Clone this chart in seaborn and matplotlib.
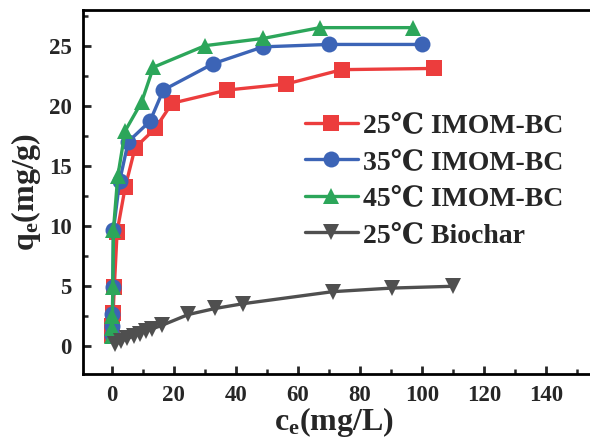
import matplotlib
matplotlib.use("Agg")
import matplotlib.pyplot as plt
import numpy as np
import pandas as pd
import seaborn as sns
from matplotlib.font_manager import FontProperties
from matplotlib.ticker import MultipleLocator

# Equilibrium concentration ce (mg/L) and adsorption capacity qe (mg/g)
ce_25 = [0.1, 0.2, 0.4, 0.8, 1.7, 4.3, 7.5, 14.0, 19.4, 37.2, 56.2, 74.2, 103.9]
qe_25 = [0.9, 1.6, 2.7, 4.9, 9.5, 13.2, 16.5, 18.1, 20.2, 21.3, 21.8, 23.0, 23.1]

ce_35 = [0.0, 0.1, 0.2, 0.3, 0.5, 2.5, 5.3, 12.3, 16.6, 32.7, 48.8, 70.0, 100.0]
qe_35 = [0.9, 1.6, 2.6, 4.9, 9.6, 13.7, 17.0, 18.7, 21.3, 23.5, 24.9, 25.1, 25.1]

ce_45 = [0.0, 0.1, 0.2, 0.3, 0.5, 1.9, 4.3, 9.6, 13.4, 30.1, 48.8, 67.1, 97.1]
qe_45 = [0.8, 1.5, 2.5, 4.9, 9.6, 14.1, 17.9, 20.3, 23.2, 25.0, 25.6, 26.5, 26.5]

ce_bc = [1.0, 3.0, 5.0, 7.0, 9.0, 11.0, 13.0, 16.2, 24.7, 33.3, 42.4, 71.2, 90.3, 110.0]
qe_bc = [0.1, 0.4, 0.6, 0.8, 1.0, 1.2, 1.4, 1.7, 2.6, 3.1, 3.5, 4.5, 4.8, 4.95]

labels = ["25℃ IMOM-BC", "35℃ IMOM-BC", "45℃ IMOM-BC", "25℃ Biochar"]
colors = ["#EC3D3D", "#3C64B6", "#2CA65A", "#4F4F4F"]
markers = ["s", "o", "^", "v"]

sns.set_style("ticks")
plt.rcParams["font.family"] = ["Liberation Serif", "DejaVu Serif"]
plt.rcParams["font.weight"] = "bold"
plt.rcParams["mathtext.fontset"] = "custom"
plt.rcParams["mathtext.rm"] = "Liberation Serif:bold"
plt.rcParams["mathtext.bf"] = "Liberation Serif:bold"
plt.rcParams["mathtext.it"] = "Liberation Serif:bold"

frames = []
for lab, xs, ys in zip(labels, [ce_25, ce_35, ce_45, ce_bc], [qe_25, qe_35, qe_45, qe_bc]):
    frames.append(pd.DataFrame({"ce": xs, "qe": ys, "series": lab}))
df = pd.concat(frames, ignore_index=True)

W, H = 590, 443
fig = plt.figure(figsize=(W / 100, H / 100), dpi=100)
left, right, top, bottom = 82.7, 620, 10, 374
ax = fig.add_axes([left / W, 1 - bottom / H, (right - left) / W, (bottom - top) / H])

for lab, col, mk in zip(labels, colors, markers):
    sub = df[df["series"] == lab]
    sns.lineplot(
        data=sub, x="ce", y="qe", ax=ax, color=col, marker=mk, sort=False,
        estimator=None, linewidth=2.4, markersize=11.5, markeredgewidth=0,
        label=lab,
    )

ax.set_xlim(-9.4, 163.9)
ax.set_ylim(-2.36, 27.97)
ax.set_xticks(range(0, 141, 20))
ax.set_yticks(range(0, 26, 5))
ax.xaxis.set_minor_locator(MultipleLocator(10))
ax.yaxis.set_minor_locator(MultipleLocator(2.5))
ax.tick_params(which="major", direction="in", length=6, width=2, labelsize=16.5, pad=8)
ax.tick_params(which="minor", direction="in", length=3.5, width=1.8)
for s in ax.spines.values():
    s.set_linewidth(2.0)
    s.set_color("black")

for t in ax.get_xticklabels() + ax.get_yticklabels():
    t.set_fontweight("bold")

ax.set_xlabel(r"$\mathbf{c_e(mg/L)}$", fontsize=23, labelpad=0)
ax.xaxis.set_label_coords((334 - left) / (right - left), -0.085)
ax.set_ylabel(r"$\mathbf{q_e(mg/g)}$", fontsize=23, labelpad=4)

leg_font = FontProperties(family=["Liberation Serif", "DejaVu Serif"], weight="bold", size=20)
ax.legend(
    loc="upper left", bbox_to_anchor=(305 / W, 1 - 113 / H), bbox_transform=fig.transFigure,
    frameon=False, prop=leg_font, handlelength=1.9, handletextpad=0.2,
    labelspacing=0.4, borderpad=0, borderaxespad=0,
)

fig.savefig("out.png", dpi=100)
